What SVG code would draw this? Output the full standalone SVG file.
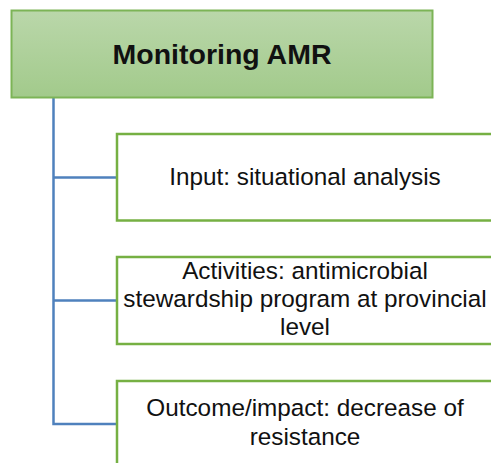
<svg xmlns="http://www.w3.org/2000/svg" width="491" height="463" viewBox="0 0 491 463">
<defs>
<linearGradient id="g" x1="0" y1="0" x2="0" y2="1">
<stop offset="0" stop-color="#bad7aa"/>
<stop offset="1" stop-color="#a2ca8b"/>
</linearGradient>
<style>
.box{fill:#ffffff;stroke:#76b043;stroke-width:2.5}
.t{font-family:"Liberation Sans",Arial,sans-serif;font-size:24.3px;fill:#111111;text-anchor:middle}
.conn{fill:none;stroke:#4f81bd;stroke-width:2.5}
</style>
</defs>
<rect width="491" height="463" fill="#ffffff"/>
<g id="connectors">
<path class="conn" d="M53.5 97.5 V424 H117 M53.5 177.5 H117 M53.5 300.5 H117"/>
</g>
<g id="root">
<rect x="11.5" y="10.5" width="421" height="87" fill="url(#g)" stroke="#7cb456" stroke-width="2"/>
<text x="222" y="63.5" class="t" style="font-weight:bold;font-size:28.5px">Monitoring AMR</text>
</g>
<g id="input">
<rect class="box" x="117" y="134" width="378" height="86.5"/>
<text class="t" x="305" y="185">Input: situational analysis</text>
</g>
<g id="activities">
<rect class="box" x="117" y="257" width="378" height="87"/>
<text class="t" x="305" y="278.5">Activities: antimicrobial</text>
<text class="t" x="305" y="307">stewardship program at provincial</text>
<text class="t" x="305" y="334.5">level</text>
</g>
<g id="outcome">
<rect class="box" x="117" y="381" width="378" height="90"/>
<text class="t" x="305" y="416">Outcome/impact: decrease of</text>
<text class="t" x="305" y="445">resistance</text>
</g>
</svg>
